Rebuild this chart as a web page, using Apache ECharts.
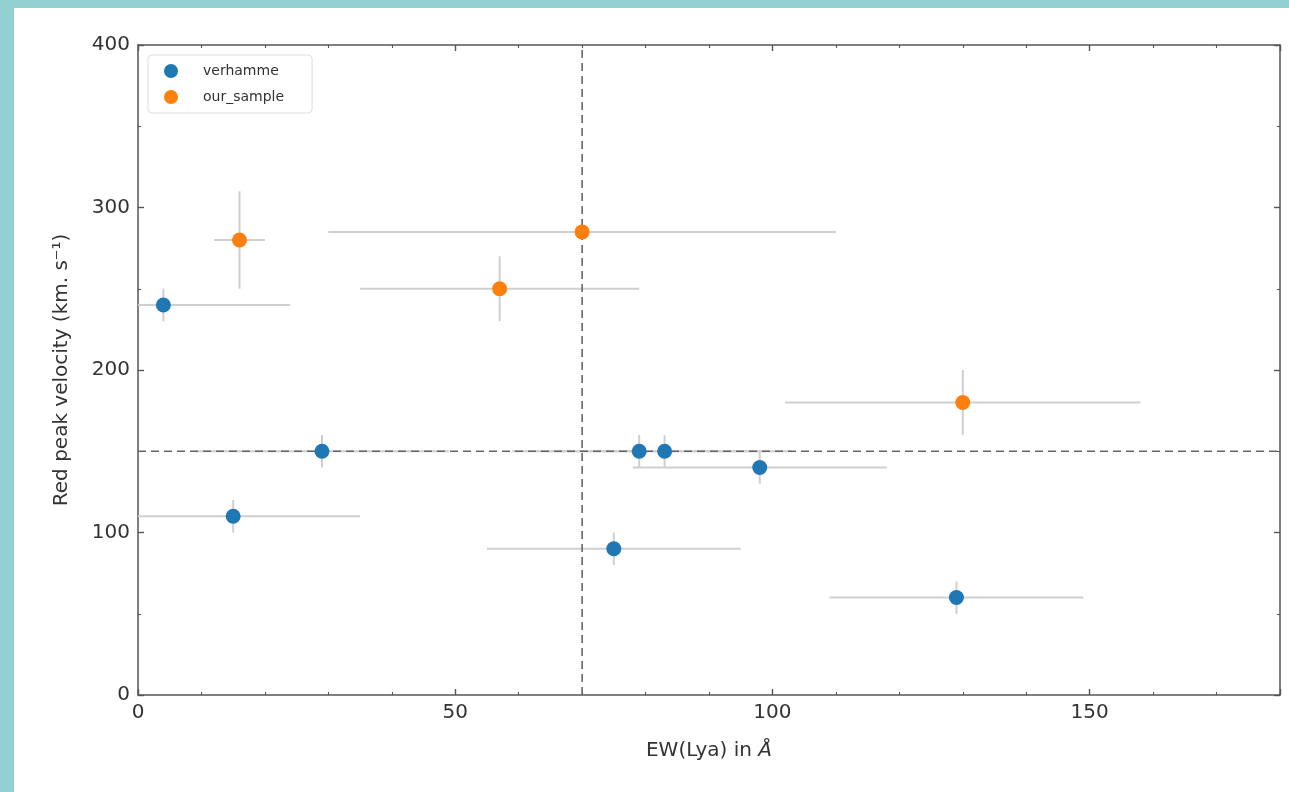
<!DOCTYPE html>
<html>
<head>
<meta charset="utf-8">
<script src="https://cdn.jsdelivr.net/npm/echarts@6/dist/echarts.min.js"></script>
<style>
  html, body { margin: 0; padding: 0; width: 1289px; height: 792px; overflow: hidden; background: #92d0d2; }
  #panel { position: absolute; left: 14px; top: 8px; right: 0; bottom: 0; background: #ffffff; }
  #chart { position: absolute; left: 0; top: 0; width: 1289px; height: 792px; }
</style>
</head>
<body>
<div id="panel"></div>
<div id="chart"></div>
<script>
// ---- data ----
const seriesNames = ['verhamme', 'our_sample'];
const verhammeEW    = [4, 15, 29, 79, 83, 98, 75, 129];
const verhammeVel   = [240, 110, 150, 150, 150, 140, 90, 60];
const verhammeEWErr = [20, 20, 20, 20, 20, 20, 20, 20];
const verhammeVelErr= [10, 10, 10, 10, 10, 10, 10, 10];
const sampleEW      = [16, 70, 57, 130];
const sampleVel     = [280, 285, 250, 180];
const sampleEWErr   = [4, 40, 22, 28];
const sampleVelErr  = [30, 0, 20, 20];
const refEW  = 70;
const refVel = 150;
const xRange = [0, 180];
const yRange = [0, 400];
const xTicks = [0, 50, 100, 150];
const yTicks = [0, 100, 200, 300, 400];

const colors = ['#1f77b4', '#ff7f0e'];
const font = 'DejaVu Sans';

function pts(xs, ys) { return xs.map((x, i) => [x, ys[i]]); }
function errs(xs, ys, xe, ye) { return xs.map((x, i) => [x, ys[i], xe[i], ye[i]]); }

function errRender(params, api) {
  const x = api.value(0), y = api.value(1), xe = api.value(2), ye = api.value(3);
  const a = api.coord([x - xe, y]), b = api.coord([x + xe, y]);
  const c = api.coord([x, y - ye]), d = api.coord([x, y + ye]);
  const style = { stroke: '#cfcfcf', lineWidth: 2 };
  const children = [];
  if (xe > 0) children.push({ type: 'line', shape: { x1: a[0], y1: a[1], x2: b[0], y2: b[1] }, style });
  if (ye > 0) children.push({ type: 'line', shape: { x1: c[0], y1: c[1], x2: d[0], y2: d[1] }, style });
  return { type: 'group', children };
}

const axisLine = { show: true, onZero: false, lineStyle: { color: '#555', width: 1.5 } };
const tickStyle = { show: true, inside: true, length: 6, lineStyle: { color: '#555', width: 1.4 } };
const minorStyle = { show: true, length: 3, lineStyle: { color: '#555', width: 1.1 } };
const labelStyle = { color: '#333', fontSize: 20, fontFamily: font };
const dashStyle = { color: '#666', width: 1.6, type: [8, 5] };

const chart = echarts.init(document.getElementById('chart'));
chart.setOption({
  animation: false,
  backgroundColor: 'transparent',
  grid: { left: 138, right: 9, top: 45, bottom: 97, containLabel: false },
  legend: {
    left: 148, top: 55, orient: 'vertical',
    data: seriesNames,
    icon: 'circle', itemWidth: 14, itemHeight: 14, itemGap: 12,
    padding: [9, 28, 9, 16],
    backgroundColor: '#fff', borderColor: '#ddd', borderWidth: 1, borderRadius: 4,
    textStyle: { color: '#333', fontSize: 14, fontFamily: font, padding: [0, 0, 0, 20] }
  },
  xAxis: [
    {
      type: 'value', min: xRange[0], max: xRange[1], interval: 50, position: 'bottom',
      name: 'EW(Lya) in {it|Å}', nameLocation: 'middle', nameGap: 46,
      nameTextStyle: { color: '#333', fontSize: 20, fontFamily: font, rich: { it: { fontStyle: 'italic', fontSize: 20, fontFamily: font, color: '#333' } } },
      axisLine, axisTick: tickStyle, minorTick: Object.assign({ splitNumber: 5 }, minorStyle),
      splitLine: { show: false },
      axisLabel: Object.assign({ margin: 8, showMaxLabel: false,
        formatter: v => xTicks.includes(v) ? String(v) : '' }, labelStyle)
    },
    {
      type: 'value', min: xRange[0], max: xRange[1], interval: 50, position: 'top',
      axisLine, axisTick: tickStyle, minorTick: Object.assign({ splitNumber: 5 }, minorStyle),
      splitLine: { show: false }, axisLabel: { show: false }
    }
  ],
  yAxis: [
    {
      type: 'value', min: yRange[0], max: yRange[1], interval: 100, position: 'left',
      name: 'Red peak velocity (km. s⁻¹)', nameLocation: 'middle', nameGap: 66,
      nameTextStyle: { color: '#333', fontSize: 20, fontFamily: font },
      axisLine, axisTick: tickStyle, minorTick: Object.assign({ splitNumber: 2 }, minorStyle),
      splitLine: { show: false },
      axisLabel: Object.assign({ margin: 8,
        formatter: v => yTicks.includes(v) ? String(v) : '' }, labelStyle)
    },
    {
      type: 'value', min: yRange[0], max: yRange[1], interval: 100, position: 'right',
      axisLine, axisTick: tickStyle, minorTick: Object.assign({ splitNumber: 2 }, minorStyle),
      splitLine: { show: false }, axisLabel: { show: false }
    }
  ],
  series: [
    {
      type: 'custom', name: 'err_verhamme', renderItem: errRender, clip: true, z: 2,
      data: errs(verhammeEW, verhammeVel, verhammeEWErr, verhammeVelErr), silent: true
    },
    {
      type: 'custom', name: 'err_sample', renderItem: errRender, clip: true, z: 2,
      data: errs(sampleEW, sampleVel, sampleEWErr, sampleVelErr), silent: true
    },
    {
      type: 'line', name: 'vref', data: [[refEW, yRange[0]], [refEW, yRange[1]]],
      showSymbol: false, symbol: 'none', lineStyle: dashStyle, z: 3, silent: true
    },
    {
      type: 'line', name: 'href', data: [[xRange[0], refVel], [xRange[1], refVel]],
      showSymbol: false, symbol: 'none', lineStyle: dashStyle, z: 3, silent: true
    },
    {
      type: 'scatter', name: seriesNames[0], data: pts(verhammeEW, verhammeVel),
      symbol: 'circle', symbolSize: 15, itemStyle: { color: colors[0], opacity: 1 }, z: 5
    },
    {
      type: 'scatter', name: seriesNames[1], data: pts(sampleEW, sampleVel),
      symbol: 'circle', symbolSize: 15, itemStyle: { color: colors[1], opacity: 1 }, z: 5
    }
  ]
});
</script>
</body>
</html>
